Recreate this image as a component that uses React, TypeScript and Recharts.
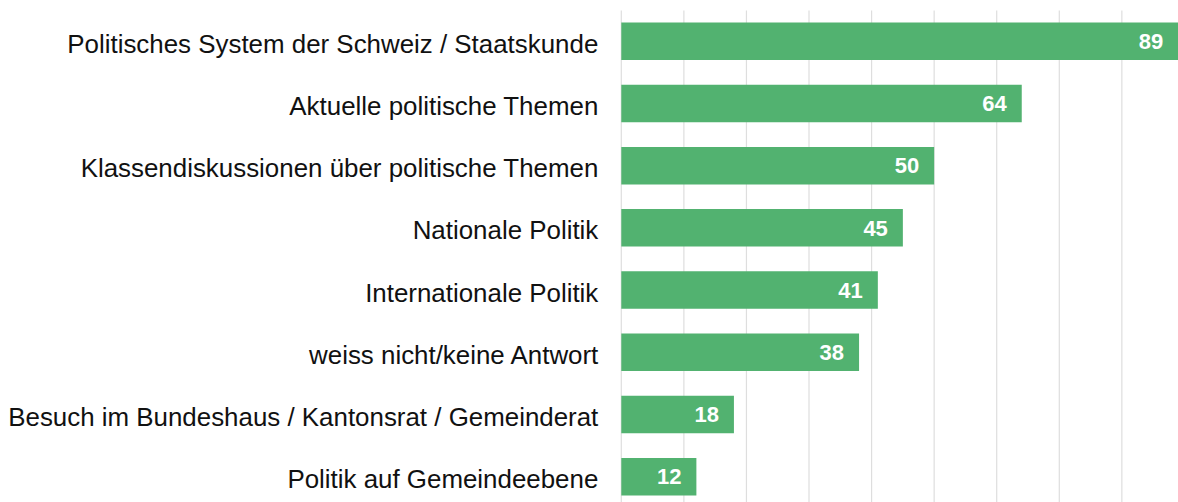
import React from "react";
import { BarChart, Bar, XAxis, YAxis, CartesianGrid, LabelList } from "recharts";

const categories = [
  "Politisches System der Schweiz / Staatskunde",
  "Aktuelle politische Themen",
  "Klassendiskussionen über politische Themen",
  "Nationale Politik",
  "Internationale Politik",
  "weiss nicht/keine Antwort",
  "Besuch im Bundeshaus / Kantonsrat / Gemeinderat",
  "Politik auf Gemeindeebene",
];
const values = [89, 64, 50, 45, 41, 38, 18, 12];
const xTicks = [0, 10, 20, 30, 40, 50, 60, 70, 80, 90, 100];

const data = categories.map((name, i) => ({ name, value: values[i] }));

const FONT = '"Liberation Sans", Arial, Helvetica, sans-serif';

export default function App() {
  return (
    <div
      style={{
        position: "absolute",
        left: 0,
        top: 0,
        width: 1178,
        height: 502,
        overflow: "hidden",
        background: "#ffffff",
      }}
    >
      <BarChart
        width={1247}
        height={520}
        data={data}
        layout="vertical"
        margin={{ top: 10.5, right: 0, bottom: 11.9, left: 0 }}
      >
        <CartesianGrid horizontal={false} vertical={true} stroke="#dedede" strokeWidth={1.2} />
        <XAxis type="number" domain={[0, 100]} ticks={xTicks} hide />
        <YAxis
          type="category"
          dataKey="name"
          width={621.3}
          axisLine={false}
          tickLine={false}
          tickSize={0}
          tickMargin={23}
          tick={{ fill: "#111111", fontSize: 25.9, fontFamily: FONT, dy: 2 }}
          interval={0}
        />
        <Bar dataKey="value" fill="#52b270" barSize={37.5} isAnimationActive={false}>
          <LabelList
            dataKey="value"
            position="insideRight"
            offset={15}
            fill="#ffffff"
            style={{ fontSize: 22, fontWeight: "bold", fontFamily: FONT }}
          />
        </Bar>
      </BarChart>
    </div>
  );
}
